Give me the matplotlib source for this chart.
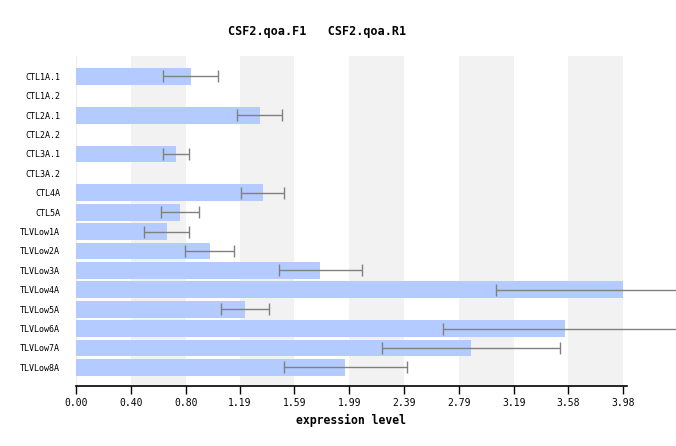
import matplotlib
matplotlib.use('Agg')
import matplotlib.pyplot as plt
import numpy as np

samples = ['CTL1A.1', 'CTL1A.2', 'CTL2A.1', 'CTL2A.2', 'CTL3A.1', 'CTL3A.2',
           'CTL4A', 'CTL5A', 'TLVLow1A', 'TLVLow2A', 'TLVLow3A', 'TLVLow4A',
           'TLVLow5A', 'TLVLow6A', 'TLVLow7A', 'TLVLow8A']
# nan = no bar drawn for that sample
expression = [0.835, np.nan, 1.336, np.nan, 0.726, np.nan, 1.358, 0.755,
              0.661, 0.973, 1.779, 3.980, 1.227, 3.558, 2.876, 1.961]
error = [0.200, np.nan, 0.165, np.nan, 0.096, np.nan, 0.158, 0.140,
         0.165, 0.180, 0.300, 0.920, 0.175, 0.885, 0.650, 0.450]
tick_values = [0.00, 0.40, 0.80, 1.19, 1.59, 1.99, 2.39, 2.79, 3.19, 3.58, 3.98]
series_names = ['CSF2.qoa.F1', 'CSF2.qoa.R1']

mono = 'DejaVu Sans Mono'

fig = plt.figure(figsize=(6.76, 4.46), dpi=100)
fig.patch.set_facecolor('white')
ax = fig.add_axes([76/676, (446-386)/446, (627-76)/676, (386-56)/446])

ypos = np.arange(len(samples))

# alternating grey bands
for i in range(1, len(tick_values) - 1, 2):
    ax.axvspan(tick_values[i], tick_values[i+1], color='#f2f2f2', zorder=0, lw=0)
ax.axvline(0, color='#eeeeee', lw=1, zorder=1)

ax.barh(ypos, expression, height=0.86, color='#b3cbff', zorder=2)
ax.errorbar(expression, ypos, xerr=error, fmt='none', ecolor='#808080',
            elinewidth=1, capsize=4.5, capthick=1, zorder=3, clip_on=False)

ax.set_xlim(0, 4.01)
ax.set_ylim(15.96, -1.05)
ax.set_xticks(tick_values)
ax.set_xticklabels(['%.2f' % v for v in tick_values], family=mono, fontsize=7)
ax.set_yticks(ypos)
ax.set_yticklabels(samples, family=mono, fontsize=6)
ax.tick_params(axis='y', length=0, pad=11.5)
ax.tick_params(axis='x', length=6, width=1, color='black', pad=3)
for s in ['top', 'right', 'left']:
    ax.spines[s].set_visible(False)
ax.spines['bottom'].set_linewidth(1.2)

ax.set_xlabel('expression level', family=mono, fontsize=8.3, weight='bold', labelpad=4)

fig.text(317.5/676, 1 - 31/446, '   '.join(series_names), family=mono,
         fontsize=8.5, weight='bold', ha='center', va='center')

plt.savefig('out.png', dpi=100, facecolor='white')
plt.close()
